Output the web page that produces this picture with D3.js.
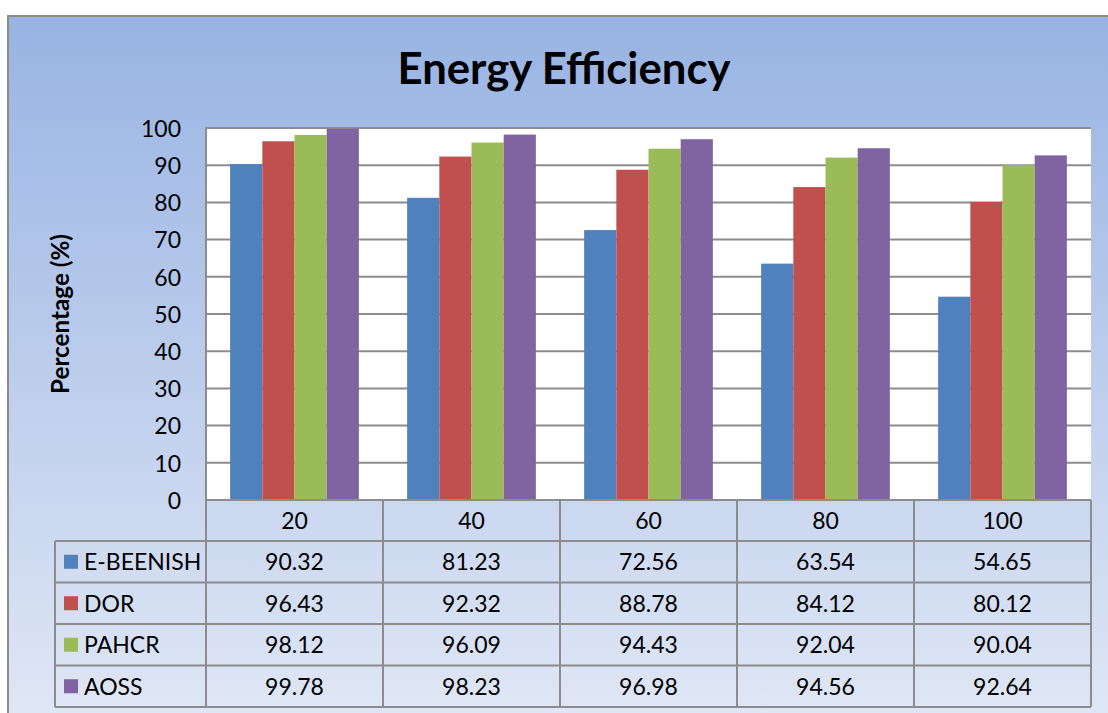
<!DOCTYPE html>
<html>
<head>
<meta charset="utf-8">
<script src="https://cdn.jsdelivr.net/npm/d3@7"></script>
<style>
  html, body { margin: 0; padding: 0; background: #ffffff; }
  svg { display: block; }
  text { font-family: Lato, "Open Sans", sans-serif; fill: #000; }
</style>
</head>
<body>
<svg id="chart" width="1108" height="713"></svg>
<script>
// Data
const categories = ["20", "40", "60", "80", "100"];
const seriesNames = ["E-BEENISH", "DOR", "PAHCR", "AOSS"];
const eBeenish = [90.32, 81.23, 72.56, 63.54, 54.65];
const dor      = [96.43, 92.32, 88.78, 84.12, 80.12];
const pahcr    = [98.12, 96.09, 94.43, 92.04, 90.04];
const aoss     = [99.78, 98.23, 96.98, 94.56, 92.64];
const yTicks   = [0, 10, 20, 30, 40, 50, 60, 70, 80, 90, 100];
const seriesColors = ["#4f81bd", "#c0504d", "#9bbb59", "#8064a2"];

const seriesValues = [eBeenish, dor, pahcr, aoss];
const series = seriesNames.map((name, i) => ({ name, color: seriesColors[i], values: seriesValues[i] }));

const svg = d3.select("#chart");
const W = 1108, H = 713;

// Layout
const frame = { x: 8, y: 16 };
const plot = { left: 206, right: 1091, top: 128, bottom: 500 };
const table = { left: 55, headerH: 41, rowH: 41.5 };
const gridColor = "#8c8c8c";
const bodySize = 23;

// Scale a text element's font size so it spans the given width
function fitWidth(sel, base, target) {
  const w = sel.node().getComputedTextLength();
  sel.attr("font-size", base * target / w);
}

// Background with vertical gradient
const defs = svg.append("defs");
const grad = defs.append("linearGradient").attr("id", "bg").attr("x1", 0).attr("y1", 0).attr("x2", 0).attr("y2", 1);
grad.append("stop").attr("offset", "0%").attr("stop-color", "#98b3e3");
grad.append("stop").attr("offset", "100%").attr("stop-color", "#e0e7f5");

svg.append("rect").attr("x", frame.x).attr("y", frame.y)
  .attr("width", W - frame.x + 5).attr("height", H - frame.y + 5)
  .attr("fill", "url(#bg)").attr("stroke", gridColor).attr("stroke-width", 2);

// Title
const title = svg.append("text").attr("x", 564).attr("y", 84)
  .attr("text-anchor", "middle").attr("font-weight", 700).attr("font-size", 44)
  .text("Energy Efficiency");
fitWidth(title, 44, 333);

// Scales
const x = d3.scaleBand().domain(categories).range([plot.left, plot.right]).padding(0);
const xInner = d3.scaleBand().domain(seriesNames).range([0, x.bandwidth()]).paddingInner(0).paddingOuter(0.75);
const y = d3.scaleLinear().domain([0, 100]).range([plot.bottom, plot.top]);

// Plot area
svg.append("rect").attr("x", plot.left).attr("y", plot.top)
  .attr("width", plot.right - plot.left).attr("height", plot.bottom - plot.top)
  .attr("fill", "#ffffff");

// Gridlines
svg.append("g").selectAll("line").data(yTicks).join("line")
  .attr("x1", plot.left).attr("x2", plot.right)
  .attr("y1", d => y(d)).attr("y2", d => y(d))
  .attr("stroke", gridColor).attr("stroke-width", 2);

// Bars
const groups = svg.append("g").selectAll("g").data(series).join("g").attr("fill", d => d.color);
groups.selectAll("rect").data(d => d.values.map((v, i) => ({ s: d.name, c: categories[i], v })))
  .join("rect")
  .attr("x", d => x(d.c) + xInner(d.s))
  .attr("width", xInner.bandwidth())
  .attr("y", d => y(d.v))
  .attr("height", d => y(0) - y(d.v));

// Axis line
svg.append("line").attr("x1", plot.left).attr("x2", plot.left).attr("y1", plot.top - 1).attr("y2", plot.bottom)
  .attr("stroke", gridColor).attr("stroke-width", 2);

// Y axis labels
const yAxis = d3.axisLeft(y).tickValues(yTicks).tickSize(0).tickPadding(25);
const gy = svg.append("g").attr("transform", `translate(${plot.left},0)`).call(yAxis);
gy.select(".domain").remove();
gy.selectAll("text").attr("font-size", bodySize).attr("font-family", "Lato, sans-serif").attr("fill", "#000")
  .attr("dy", "0.36em");

// Y axis title
const yTitle = svg.append("text").attr("transform", "translate(69,314) rotate(-90)")
  .attr("text-anchor", "middle").attr("font-weight", 700).attr("font-size", 20)
  .text("Percentage (%)");
fitWidth(yTitle, 20, 160);

// Data table
const tTop = plot.bottom;
const rowY = i => tTop + table.headerH + i * table.rowH;
const tBottom = rowY(series.length);
const tg = svg.append("g");

// Header cells (category labels)
tg.selectAll("text.cat").data(categories).join("text").attr("class", "cat")
  .attr("x", d => x(d) + x.bandwidth() / 2).attr("y", tTop + table.headerH / 2)
  .attr("dy", "0.36em").attr("text-anchor", "middle").attr("font-size", bodySize).text(d => d);

// Legend keys, series names and values
series.forEach((s, si) => {
  const cy = rowY(si) + table.rowH / 2;
  tg.append("rect").attr("x", 64).attr("y", cy - 7).attr("width", 14).attr("height", 14).attr("fill", s.color);
  tg.append("text").attr("x", 84).attr("y", cy).attr("dy", "0.36em").attr("font-size", bodySize).text(s.name);
  tg.selectAll(null).data(s.values).join("text")
    .attr("x", (d, i) => x(categories[i]) + x.bandwidth() / 2).attr("y", cy)
    .attr("dy", "0.36em").attr("text-anchor", "middle").attr("font-size", bodySize)
    .text(d => d.toFixed(2));
});

// Table grid lines
const lines = [];
lines.push([plot.left, tTop, plot.right, tTop]);
for (let i = 0; i <= series.length; i++) lines.push([table.left, rowY(i), plot.right, rowY(i)]);
lines.push([table.left, rowY(0), table.left, tBottom]);
categories.forEach(c => lines.push([x(c), tTop, x(c), tBottom]));
lines.push([plot.right, tTop, plot.right, tBottom]);
tg.selectAll("line").data(lines).join("line")
  .attr("x1", d => d[0]).attr("y1", d => d[1]).attr("x2", d => d[2]).attr("y2", d => d[3])
  .attr("stroke", gridColor).attr("stroke-width", 2);
</script>
</body>
</html>
